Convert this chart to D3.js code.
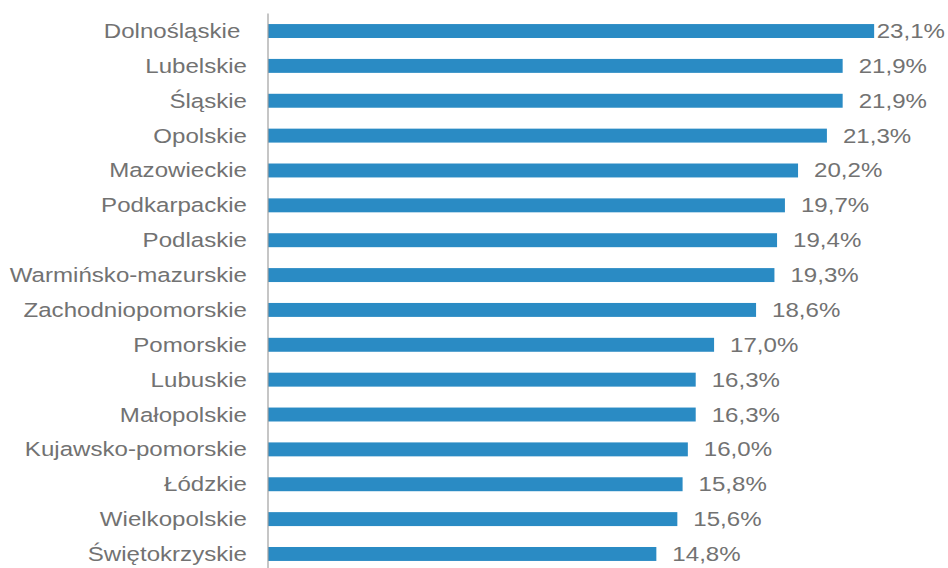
<!DOCTYPE html>
<html>
<head>
<meta charset="utf-8">
<script src="https://cdn.jsdelivr.net/npm/d3@7"></script>
<style>
  body { margin: 0; background: #fff; }
  text { font-family: "Liberation Sans", Arial, sans-serif; white-space: pre; }
</style>
</head>
<body>
<svg width="948" height="568"></svg>
<script>
// data
const regions = ["Dolnośląskie ", "Lubelskie", "Śląskie", "Opolskie", "Mazowieckie", "Podkarpackie",
  "Podlaskie", "Warmińsko-mazurskie", "Zachodniopomorskie", "Pomorskie", "Lubuskie", "Małopolskie",
  "Kujawsko-pomorskie", "Łódzkie", "Wielkopolskie", "Świętokrzyskie"];
const shares = [23.1, 21.9, 21.9, 21.3, 20.2, 19.7, 19.4, 19.3, 18.6, 17.0, 16.3, 16.3, 16.0, 15.8, 15.6, 14.8];

window.onload = () => {
  const svg = d3.select("svg");
  const width = +svg.attr("width");
  const stretch = 1.235; // the original picture is stretched sideways
  const data = regions.map((r, i) => ({ region: r, value: shares[i] }));

  const x = d3.scaleLinear().domain([0, 25]).range([268, 924]);
  const y = d3.scaleBand()
    .domain(regions)
    .range([13.6, 571.4])
    .paddingInner(0.6)
    .paddingOuter(0.3);

  // bars
  svg.selectAll("rect.bar")
    .data(data)
    .enter()
    .append("rect")
    .attr("class", "bar")
    .attr("x", x(0))
    .attr("y", d => y(d.region))
    .attr("width", d => x(d.value) - x(0))
    .attr("height", y.bandwidth())
    .attr("fill", "#2a8bc4");

  // category axis
  const yAxis = d3.axisLeft(y).tickSize(0).tickPadding(0);
  const yAxisG = svg.append("g")
    .attr("transform", `translate(${x(0)},0)`)
    .call(yAxis);
  yAxisG.select(".domain").attr("stroke", "#a0a0a0").attr("stroke-width", 1.2)
    .attr("d", `M0,13.6V568`);
  yAxisG.selectAll(".tick text").remove();

  // category labels
  svg.selectAll("text.cat")
    .data(data)
    .enter()
    .append("text")
    .attr("class", "cat")
    .attr("transform", d => `translate(247,${y(d.region) + y.bandwidth() / 2 + 7}) scale(${stretch},1)`)
    .attr("text-anchor", "end")
    .attr("font-size", "19.5px")
    .attr("fill", "#727272")
    .text(d => d.region);

  // value labels
  const fmt = v => d3.format(".1f")(v).replace(".", ",") + "%";
  svg.selectAll("text.val")
    .data(data)
    .enter()
    .append("text")
    .attr("class", "val")
    .attr("font-size", "19.5px")
    .attr("fill", "#727272")
    .text(d => fmt(d.value))
    .attr("transform", function (d) {
      const w = this.getComputedTextLength() * stretch;
      const tx = Math.min(x(d.value) + 16, width - w - 3);
      return `translate(${tx},${y(d.region) + y.bandwidth() / 2 + 7}) scale(${stretch},1)`;
    });
};
</script>
</body>
</html>
